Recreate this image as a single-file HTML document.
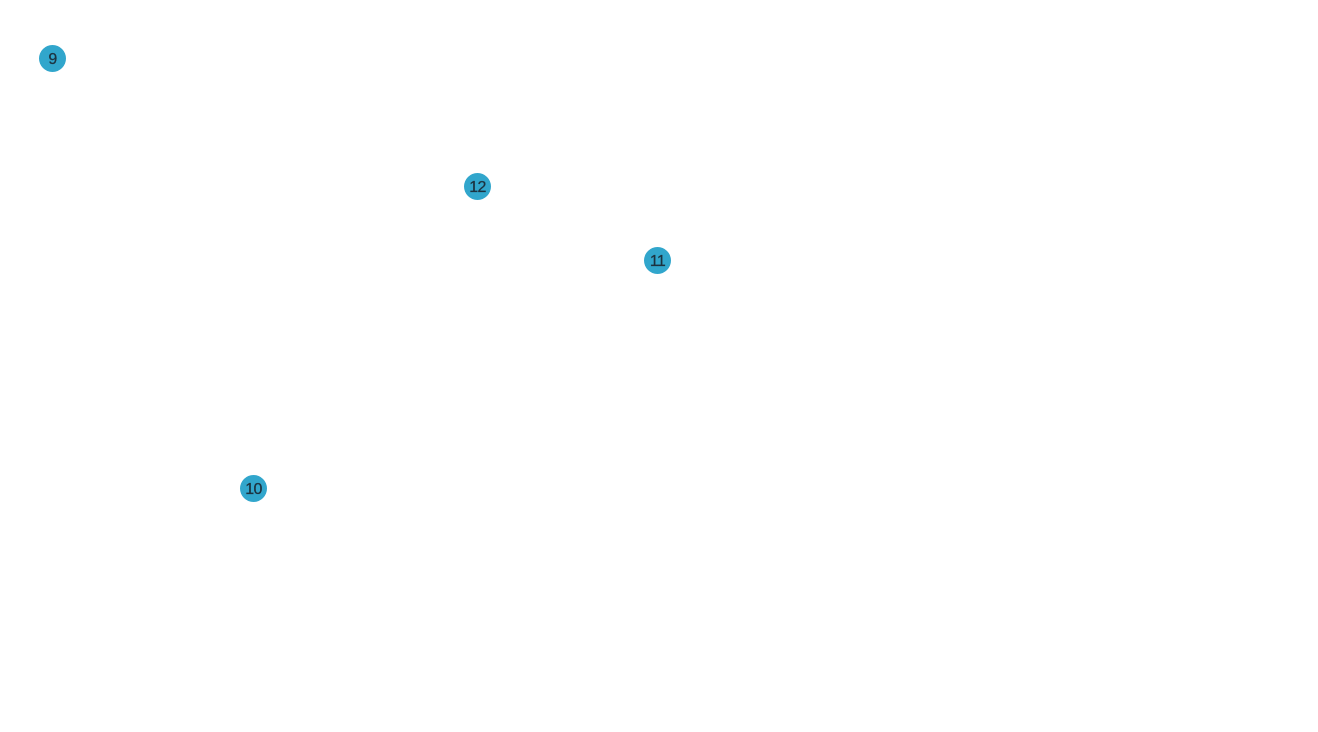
<!DOCTYPE html>
<html><head><style>
html,body{margin:0;padding:0;background:#fff;width:1318px;height:732px;overflow:hidden;position:relative}
.c{position:absolute;width:27px;height:27px;border-radius:50%;background:#31a6cc;color:#1d3340;font-family:"Liberation Sans",sans-serif;font-size:16px;line-height:29px;text-align:center;letter-spacing:-0.7px;-webkit-text-stroke:0.3px #1d3340}
</style></head><body>
<div class="c" style="left:39px;top:45px">9</div>
<div class="c" style="left:464px;top:173px">12</div>
<div class="c" style="left:644px;top:247px">11</div>
<div class="c" style="left:240px;top:475px">10</div>
</body></html>
